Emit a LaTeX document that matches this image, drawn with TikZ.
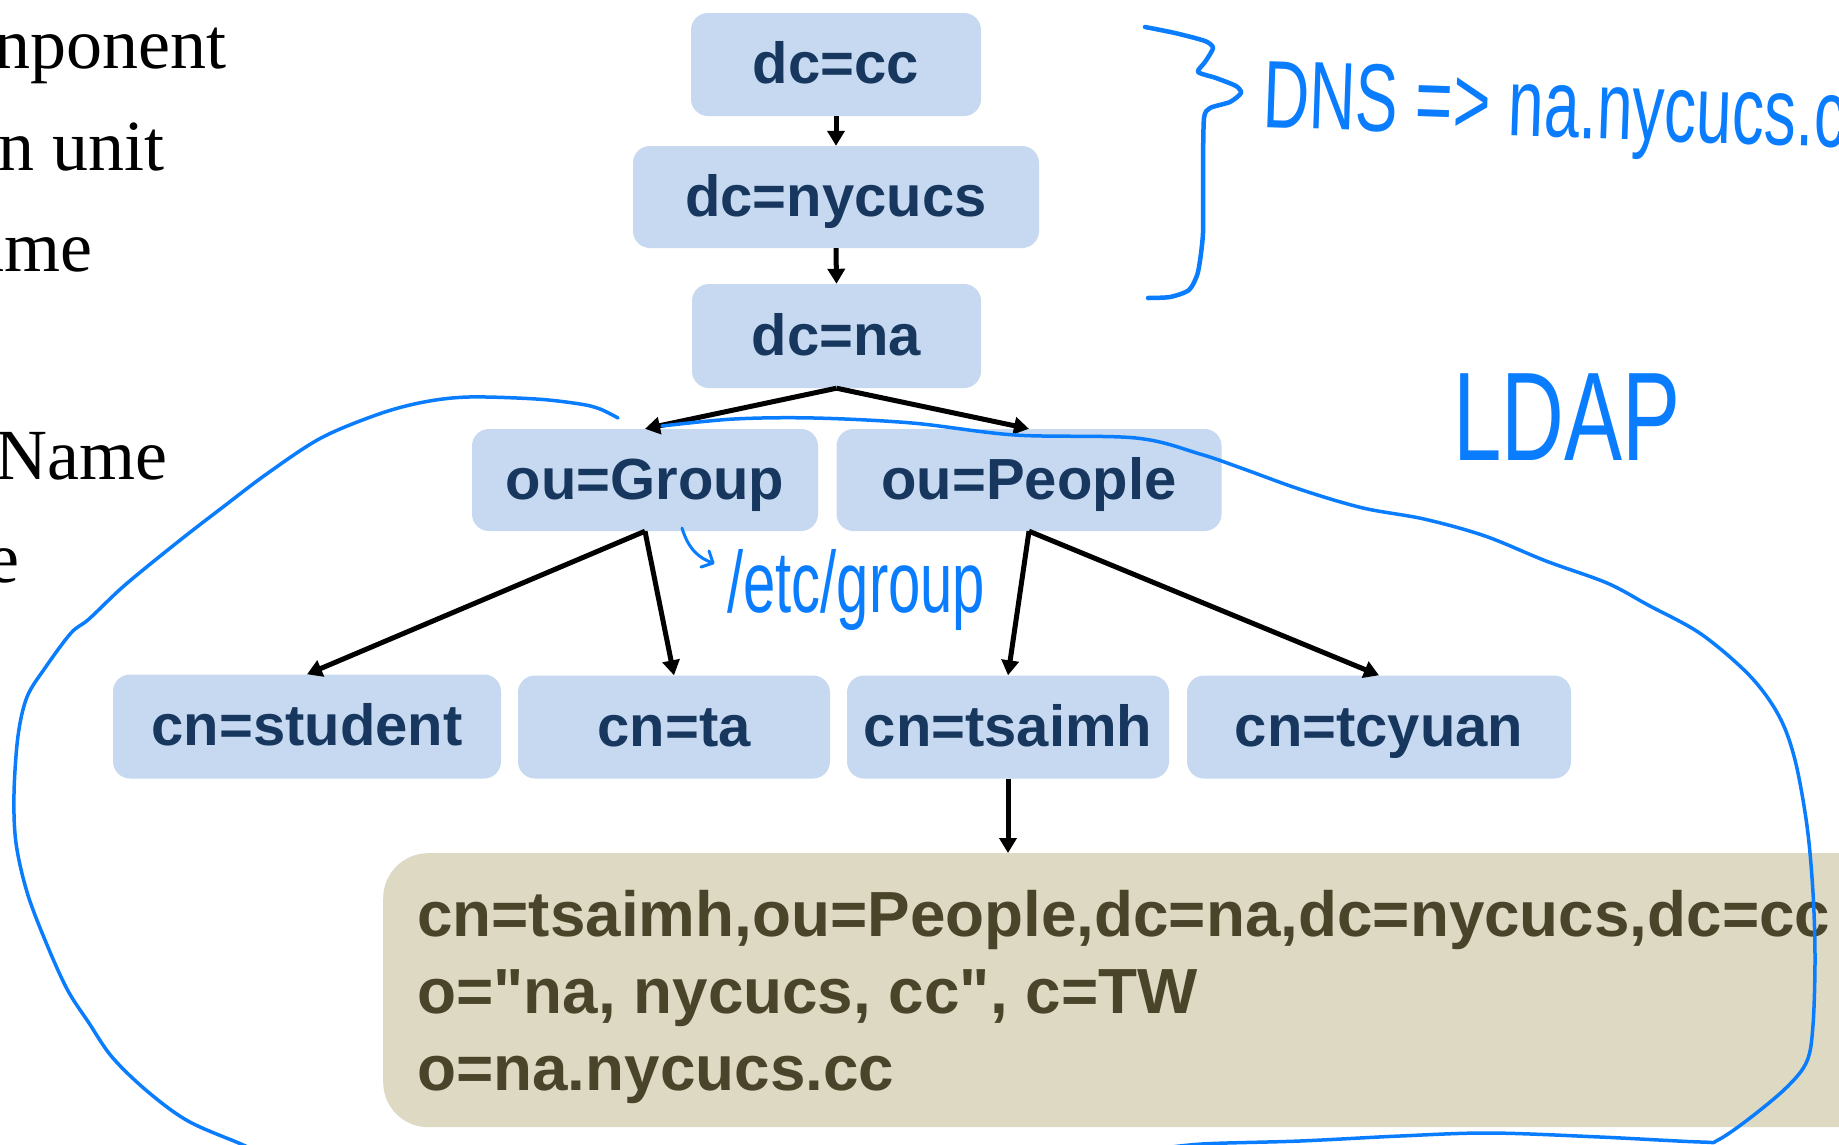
\documentclass[tikz,border=0pt]{standalone}
\usepackage{fontspec}
\usepackage{graphicx}
\setmainfont{Liberation Serif}
\newfontfamily\boxfont{Liberation Sans}
\newfontfamily\handfont{Liberation Sans}
\usetikzlibrary{arrows.meta}
\definecolor{boxfill}{RGB}{198,217,240}
\definecolor{boxtext}{RGB}{23,55,94}
\definecolor{dnfill}{RGB}{221,217,195}
\definecolor{dntext}{RGB}{74,69,42}
\definecolor{inkblue}{RGB}{10,125,255}

\begin{document}
\begin{tikzpicture}[x=1pt,y=-1pt,
  entry/.style={fill=boxfill, rounded corners=17pt, inner sep=0pt, text=boxtext,
    font=\boxfont\bfseries\fontsize{58}{60}\selectfont, text height=38pt, text depth=0pt},
  link/.style={line width=5pt, -{Triangle[length=15pt,width=17pt]}},
  slide/.style={font=\fontsize{72}{80}\selectfont, inner sep=0pt, anchor=base east},
  dnline/.style={font=\boxfont\bfseries\fontsize{63.8}{70}\selectfont, text=dntext,
    inner sep=0pt, anchor=base west},
  inkline/.style={draw=inkblue, line cap=round, line join=round},
  hand/.style={text=inkblue, inner sep=0pt, anchor=base west}
]
\useasboundingbox (0,0) rectangle (1839,1144);
\fill[white] (0,0) rectangle (1839,1144);
\clip (0,0) rectangle (1839,1144);

% slide text on the left margin
\node[slide] (s1) at (227,68)  {nponent};
\node[slide] (s2) at (165,170) {n unit};
\node[slide] (s3) at (93,271)  {ame};
\node[slide] (s4) at (168,479) {Name};
\node[slide] (s5) at (20,582)  {e};

% directory tree
\node[entry, minimum width=290pt, minimum height=103pt] (cc)  at (836,64.5) {dc=cc};
\node[entry, minimum width=406pt, minimum height=102pt] (nyc) at (836,197)  {dc=nycucs};
\node[entry, minimum width=289pt, minimum height=104pt] (na)  at (836.5,336) {dc=na};
\node[entry, minimum width=346pt, minimum height=102pt] (grp) at (645,480)  {ou=Group};
\node[entry, minimum width=385pt, minimum height=102pt] (ppl) at (1029,480) {ou=People};
\node[entry, minimum width=388pt, minimum height=104pt] (stu) at (307,726.5) {cn=student};
\node[entry, minimum width=312pt, minimum height=103pt] (ta)  at (674,727)  {cn=ta};
\node[entry, minimum width=322pt, minimum height=103pt] (tsa) at (1008,727) {cn=tsaimh};
\node[entry, minimum width=384pt, minimum height=103pt] (tcy) at (1379,727) {cn=tcyuan};

% distinguished name panel
\node[fill=dnfill, rounded corners=45pt, minimum width=1600pt, minimum height=274pt,
      anchor=north west, inner sep=0pt] (dn) at (383,853) {};
\node[dnline] (dn1) at (417,936)  {cn=tsaimh,ou=People,dc=na,dc=nycucs,dc=cc};
\node[dnline] (dn2) at (417,1013) {o="na, nycucs, cc", c=TW};
\node[dnline] (dn3) at (417,1090) {o=na.nycucs.cc};

% connectors
\draw[link] (cc.south)  -- (nyc.north);
\draw[link] (nyc.south) -- (na.north);
\draw[link] (na.south)  -- (grp.north);
\draw[link] (na.south)  -- (ppl.north);
\draw[link] (grp.south) -- (stu.north);
\draw[link] (grp.south) -- (ta.north);
\draw[link] (ppl.south) -- (tsa.north);
\draw[link] (ppl.south) -- (tcy.north);
\draw[link] (tsa.south) -- (tsa.south |- dn.north);

% hand-drawn annotations
\draw[inkline, line width=4.5pt] plot[smooth, tension=0.4] coordinates {
  (1145,27) (1175,33) (1205,41) (1213,48) (1205,62) (1198,72) (1216,78)
  (1236,86) (1241,93) (1230,102) (1210,108) (1204,118) (1203,170) (1203,233)
  (1198,272) (1189,290) (1170,297) (1148,298)};
\node[hand, rotate=-2, font=\handfont\fontsize{64}{70}\selectfont] (dns) at (1262,127)
  {\scalebox{1}[1.5]{DNS => na.nycucs.cc}};
\node[hand, font=\handfont\fontsize{87}{95}\selectfont] (ldap) at (1453,460)
  {\scalebox{1}[1.45]{LDAP}};
\draw[inkline, line width=3pt] (682,528) .. controls (688,548) and (698,558) .. (713,563);
\draw[inkline, line width=3pt] (709,551) -- (713,563) -- (701,567);
\node[hand, font=\handfont\fontsize{58}{64}\selectfont] (etc) at (727,612)
  {\scalebox{1}[1.5]{/etc/group}};

% loop round the subtree
\draw[inkline, line width=3.5pt] plot[smooth, tension=0.55] coordinates {
  (618,418) (600,409) (580,404) (536,399) (469,397) (424,402) (379,414)
  (321,438) (268,473) (223,507) (179,541) (125,585) (89,619) (71,633)
  (45,668) (27,697) (18,736) (14,794) (16,843) (27,892) (45,940) (67,989)
  (89,1023) (112,1057) (147,1091) (188,1121) (241,1144) (262,1154)};
\draw[inkline, line width=3.5pt] plot[smooth, tension=0.55] coordinates {
  (662,426) (734,419) (814,418) (912,423) (1015,435) (1136,438) (1200,454)
  (1241,468) (1302,490) (1363,508) (1424,519) (1485,536) (1546,561)
  (1607,583) (1648,605) (1701,634) (1750,676) (1779,716) (1795,760)
  (1807,826) (1813,893) (1815,959) (1813,1025) (1807,1061) (1787,1087)
  (1750,1118) (1718,1140) (1701,1142) (1600,1137) (1490,1133) (1400,1136)
  (1300,1141) (1202,1144) (1150,1150)};
\end{tikzpicture}
\end{document}
